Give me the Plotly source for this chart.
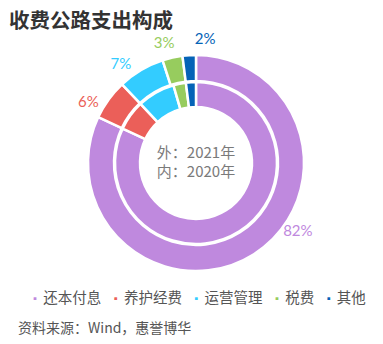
import plotly.graph_objects as go

# Expenditure structure of toll roads: outer ring 2021, inner ring 2020
categories = ["还本付息", "养护经费", "运营管理", "税费", "其他"]
share_2021 = [82, 6, 7, 3, 2]
share_2020 = [82, 6, 7.5, 2.5, 2]
colors = ["#bf89de", "#eb5f59", "#33ccff", "#97cc5e", "#0563b7"]

W, H = 383, 344
cx, cy = 196, 163          # ring centre in px (from top-left)
r_outer, r_inner = 108, 81  # outer radii of the two rings
r_label_area = 140          # radius of the polar frame carrying the % labels
label_r = 123               # label distance from the centre (px)
label_nudge_deg = [-23.5, -7, -7, -2.4, 7.9]  # spread labels apart around the ring


def dom(r):
    return dict(
        x=[(cx - r) / W, (cx + r) / W],
        y=[(H - cy - r) / H, (H - cy + r) / H],
    )


fig = go.Figure()

fig.add_trace(go.Pie(
    labels=categories, values=share_2021, sort=False, direction="clockwise",
    rotation=0, hole=82 / r_outer, domain=dom(r_outer),
    marker=dict(colors=colors, line=dict(color="white", width=2.5)),
    textinfo="none", hoverinfo="skip", showlegend=False,
))

fig.add_trace(go.Pie(
    labels=categories, values=share_2020, sort=False, direction="clockwise",
    rotation=0, hole=56 / r_inner, domain=dom(r_inner),
    marker=dict(colors=colors, line=dict(color="white", width=2.5)),
    textinfo="none", hoverinfo="skip", showlegend=False,
    title=dict(text="外：2021年<br>内：2020年", position="middle center",
               font=dict(size=15, color="#7a7a7a", family="Noto Sans CJK SC")),
))

# percentage labels of the 2021 ring, placed at each slice's mid-angle
total = sum(share_2021)
mid_deg, acc = [], 0.0
for v in share_2021:
    mid_deg.append((acc + v / 2) / total * 360)
    acc += v
fig.add_trace(go.Scatterpolar(
    r=[label_r] * len(share_2021),
    theta=[m + n for m, n in zip(mid_deg, label_nudge_deg)],
    mode="text", text=[f"{v}%" for v in share_2021],
    textfont=dict(color=colors, size=15, family="Lato, Noto Sans CJK SC"),
    textposition="middle center", hoverinfo="skip", showlegend=False,
))

# legend row built from the category list
legend_text = "\u00a0\u00a0\u2009".join(
    f"<span style='color:{c};font-size:10px'>▪</span>\u00a0{n}"
    for n, c in zip(categories, colors)
)

fig.update_layout(
    width=W, height=H,
    margin=dict(l=0, r=0, t=0, b=0),
    paper_bgcolor="white", plot_bgcolor="white",
    polar=dict(
        domain=dom(r_label_area), bgcolor="rgba(0,0,0,0)",
        radialaxis=dict(range=[0, r_label_area], visible=False),
        angularaxis=dict(rotation=90, direction="clockwise", visible=False),
    ),
    title=dict(text="<b>收费公路支出构成</b>", x=9 / W, xanchor="left",
               y=1 - 21 / H, yanchor="middle", yref="container",
               font=dict(size=20.5, color="#333333", family="Noto Sans CJK SC")),
    annotations=[
        dict(text=legend_text, x=198 / W, y=1 - 296 / H, xref="paper", yref="paper",
             xanchor="center", yanchor="middle", showarrow=False,
             font=dict(size=14.5, color="#555555", family="Noto Sans CJK SC")),
        dict(text="资料来源：Wind，惠誉博华", x=16 / W, y=1 - 327 / H,
             xref="paper", yref="paper", xanchor="left", yanchor="middle",
             showarrow=False,
             font=dict(size=14, color="#555555", family="Noto Sans CJK SC")),
    ],
)

fig.write_html("out.html")
